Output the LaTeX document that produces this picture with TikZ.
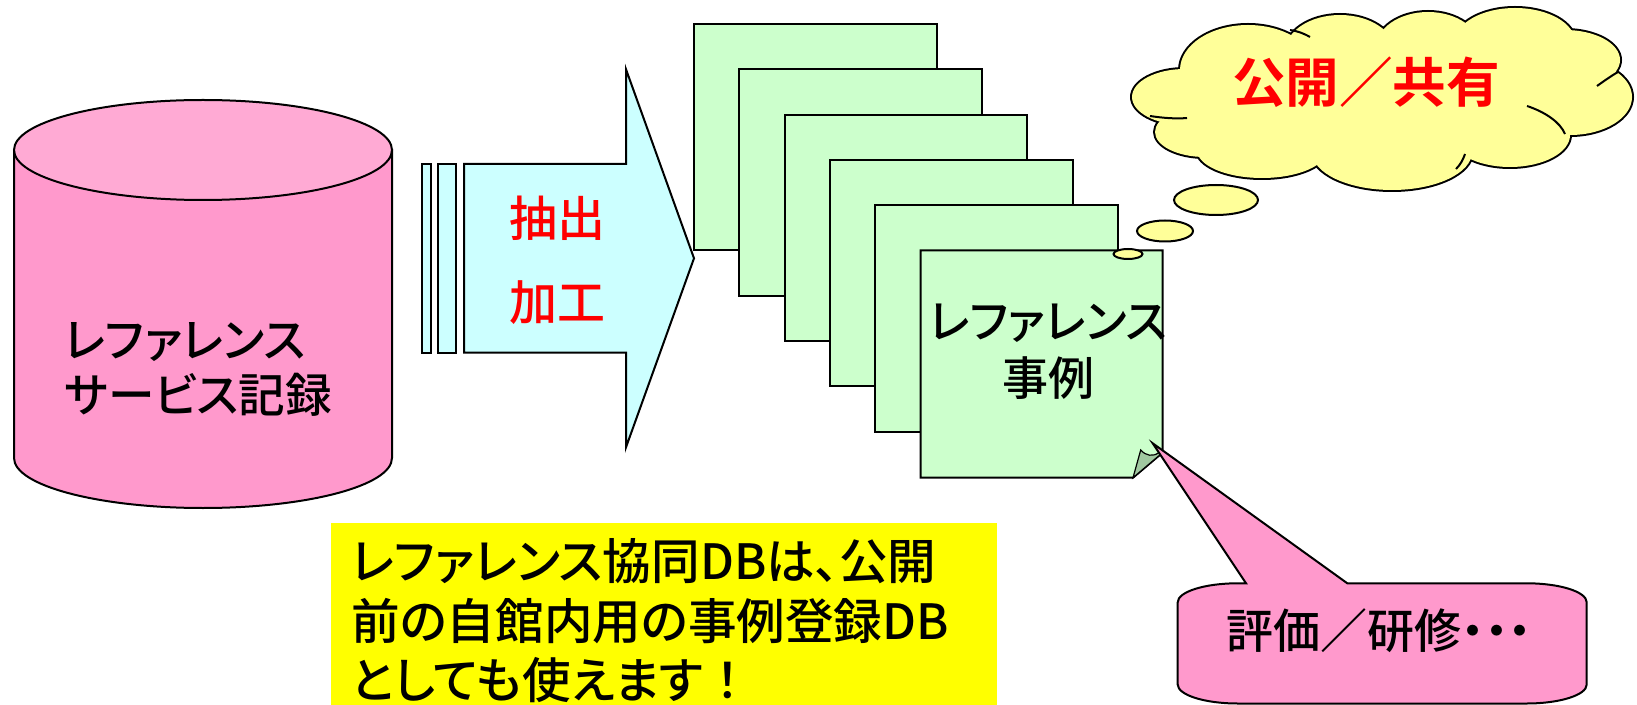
\documentclass[tikz,border=0pt]{standalone}
\usepackage{fontspec}
\setmainfont{Noto Sans CJK JP}[UprightFont=* Medium,BoldFont=* Bold,RawFeature=+palt]
\newfontfamily\jpfw{Noto Sans CJK JP}[UprightFont=* Medium,BoldFont=* Bold]
\definecolor{pinkbody}{HTML}{FF99CC}
\definecolor{pinktop}{HTML}{FFAAD4}
\definecolor{arrowfill}{HTML}{CCFFFF}
\definecolor{sheetfill}{HTML}{CCFFCC}
\definecolor{foldfill}{HTML}{A0C8A0}
\definecolor{cloudfill}{HTML}{FFFF99}
\definecolor{notefill}{HTML}{FFFF00}
\definecolor{redtext}{HTML}{FF0000}
\begin{document}
\begin{tikzpicture}[x=0.5pt,y=-0.5pt,
  outline/.style={draw=black,line width=1pt,line join=miter},
  txt/.style={inner sep=0pt,text=black},
  redtxt/.style={inner sep=0pt,font=\fontsize{24pt}{28pt}\selectfont,text=redtext},
  sheet/.style={outline,fill=sheetfill}]
\useasboundingbox (0,0) rectangle (1637,705);

% cylinder
\path[outline,fill=pinkbody] (14,150) -- (14,458)
  arc[start angle=180,end angle=0,x radius=189,y radius=50] -- (392,150) -- cycle;
\path[outline,fill=pinktop] (203,150) ellipse[x radius=189,y radius=50];
\node[txt,anchor=west,align=left,font=\fontsize{23.3pt}{27.5pt}\selectfont] (cyltext) at (64,369) {レファレンス\\サービス記録};

% arrow
\path[outline,fill=arrowfill] (421.7,164) rectangle (430.7,352.7);
\path[outline,fill=arrowfill] (438.3,164) rectangle (455.7,352.7);
\path[outline,fill=arrowfill] (464,164) -- (626,164) -- (626,69.3) -- (694,258.3)
  -- (626,447.3) -- (626,352.7) -- (464,352.7) -- cycle;
\node[redtxt] (extract) at (557,218) {抽出};
\node[redtxt] (process) at (557,303) {加工};

% sheets
\foreach \i in {0,...,4}{
  \path[sheet] (694+45.33*\i,24+45.33*\i) rectangle ++(242.5,226.5);
}
\path[sheet] (920.7,250.3) -- (1162.7,250.3) -- (1162.7,452.5) -- (1133,477.7)
  -- (920.7,477.7) -- cycle;
\path[draw=black,line width=0.6pt,fill=foldfill] (1133,477.7) -- (1140.7,450)
  .. controls (1146,456) and (1153,457) .. (1159,452.5) -- (1162.7,452.5) -- cycle;
\node[txt,align=center,font=\fontsize{23pt}{28.5pt}\selectfont] (casetext) at (1048,351.5) {レファレンス\\事例};

% note box
\path[fill=notefill] (331,523.3) rectangle (997.3,705);
\node[txt,anchor=west,align=left,font=\fontsize{24.3pt}{29.75pt}\selectfont] (note) at (351,621)
  {レファレンス協同DBは、公開\\前の自館内用の事例登録DB\\としても使えます{\jpfw ！}};

% cloud
\def\cloudlist{1185/97/53/28,1205/132/50/25,1262/150/65/28,1392/152/80/38,1510/135/60/32,1570/97/62/38,1565/60/55/30,1515/42/60/34,1428/48/52/36,1340/52/55/37,1248/70/68/45}
\foreach \cx/\cy/\rx/\ry in \cloudlist{
  \path[draw=black,line width=2pt,fill=cloudfill] (\cx,\cy) ellipse[x radius=\rx,y radius=\ry];
}
\foreach \cx/\cy/\rx/\ry in \cloudlist{
  \path[fill=cloudfill] (\cx,\cy) ellipse[x radius=\rx,y radius=\ry];
}
\path[fill=cloudfill] (1380,100) ellipse[x radius=190,y radius=55];
\draw[line width=1pt] (1150,116) .. controls (1163,118) and (1176,119) .. (1187,118);
\draw[line width=1pt] (1527,106) .. controls (1545,112) and (1560,122) .. (1565,134);
\draw[line width=1pt] (1597,86) .. controls (1604,81) and (1611,76) .. (1618,72);
\draw[line width=1pt] (1310,37) .. controls (1303,33) and (1297,31) .. (1290,30);
\draw[line width=1pt] (1465,154) .. controls (1463,160) and (1460,165) .. (1456,169);
\node[inner sep=0pt,text=redtext,font=\jpfw\bfseries\fontsize{26.8pt}{30pt}\selectfont] (share) at (1366,82) {公開／共有};
\path[outline,fill=cloudfill] (1216,200) ellipse[x radius=42,y radius=15];
\path[outline,fill=cloudfill] (1165,231) ellipse[x radius=28,y radius=10.5];
\path[outline,fill=cloudfill] (1128,254) ellipse[x radius=14.5,y radius=5];

% callout
\path[outline,fill=pinkbody] (1237.7,583.3) -- (1246,583.3) -- (1152.7,443.3) -- (1347.3,583.3)
  -- (1526.7,583.3) arc[start angle=270,end angle=360,x radius=60,y radius=19]
  -- (1586.7,684.5) arc[start angle=0,end angle=90,x radius=60,y radius=19]
  -- (1237.7,703.5) arc[start angle=90,end angle=180,x radius=60,y radius=19]
  -- (1177.7,602.3) arc[start angle=180,end angle=270,x radius=60,y radius=19] -- cycle;
\node[txt,font=\fontsize{23.5pt}{28pt}\selectfont] (eval) at (1379,631) {{\jpfw 評価／研修}・・・};
\end{tikzpicture}
\end{document}
